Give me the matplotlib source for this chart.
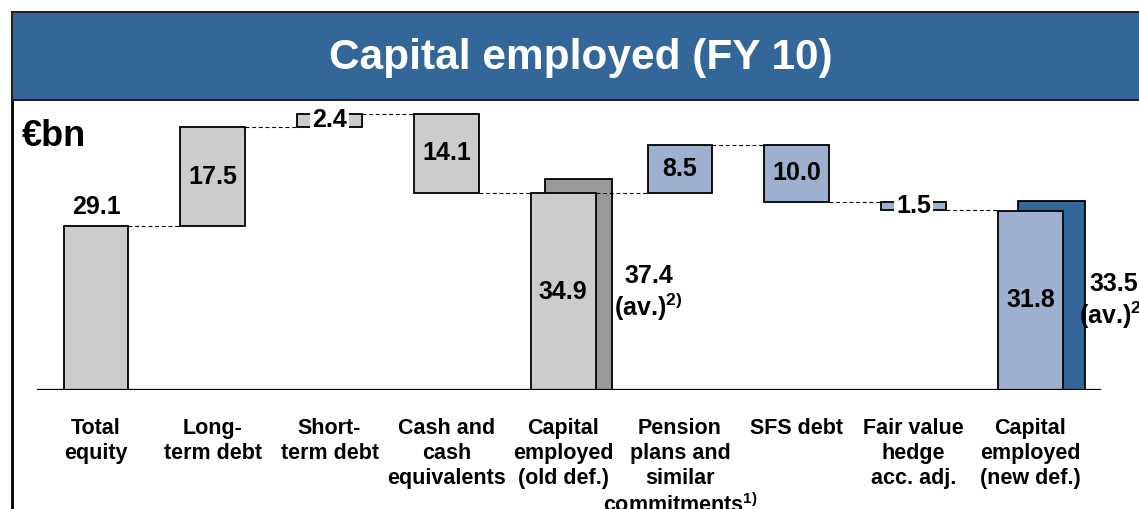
import numpy as np
import matplotlib
matplotlib.use("Agg")
from matplotlib import pyplot as plt
from matplotlib.patches import Rectangle

plt.rcParams['font.family'] = ['Liberation Sans', 'DejaVu Sans']
plt.rcParams['font.weight'] = 'bold'
plt.rcParams['mathtext.default'] = 'regular'

# data
categories = ["Total\nequity", "Long-\nterm debt", "Short-\nterm debt",
              "Cash and\ncash\nequivalents", "Capital\nemployed\n(old def.)",
              "Pension\nplans and\nsimilar\ncommitments$^{1)}$", "SFS debt",
              "Fair value\nhedge\nacc. adj.", "Capital\nemployed\n(new def.)"]
values = [29.1, 17.5, 2.4, -14.1, 34.9, 8.5, -10.0, -1.5, 31.8]
is_total = [True, False, False, False, True, False, False, False, True]
value_labels = ["29.1", "17.5", "2.4", "14.1", "34.9", "8.5", "10.0", "1.5", "31.8"]
avg_values = {4: 37.4, 8: 33.5}
avg_labels = {4: "37.4", 8: "33.5"}

gray = "#CCCCCC"
dgray = "#999999"
lblue = "#9DB0D0"
dblue = "#336699"
colors = [gray] * 5 + [lblue] * 4
avg_colors = {4: dgray, 8: dblue}
avg_offset = {4: 0.13, 8: 0.18}

W, H = 1139, 509
fig = plt.figure(figsize=(W / 100, H / 100), dpi=100)
fig.patch.set_facecolor("white")

# frame and title banner
fig.patches.append(Rectangle((12 / W, -0.1), 1.2, (H - 12) / H + 0.1, transform=fig.transFigure,
                             facecolor="none", edgecolor="black", lw=2, zorder=5))
fig.patches.append(Rectangle((12 / W, (H - 100) / H), 1.2, 88 / H, transform=fig.transFigure,
                             facecolor=dblue, edgecolor="#222222", lw=1.5, zorder=5))
fig.text(581 / W, 1 - 58 / H, "Capital employed (FY 10)", color="white",
         fontsize=30.5, fontweight="bold", ha="center", va="center", zorder=6)

base_px, top_px = 390, 100
scale = 5.64  # px per unit
ax = fig.add_axes([0, (H - base_px) / H, 1, (base_px - top_px) / H])
ax.set_zorder(3)
ax.set_facecolor("none")
step = 116.8
ax.set_xlim(-96 / step, (W - 96) / step)
ax.set_ylim(0, (base_px - top_px) / scale)
ax.axis("off")
width = 0.555

ax.axhline(0, xmin=38 / W, xmax=1100 / W, color="black", lw=1.6, zorder=5)

level = 0.0
bottoms, tops, ends = [], [], []
for i, v in enumerate(values):
    if is_total[i]:
        b, t = 0.0, v
        level = v
    else:
        b, t = min(level, level + v), max(level, level + v)
        level = level + v
    bottoms.append(b)
    tops.append(t)
    ends.append(level)

x = np.arange(len(values))
for i in avg_values:
    ax.bar(x[i] + avg_offset[i], avg_values[i], width=width + 0.02, color=avg_colors[i],
           edgecolor="black", lw=1.3, zorder=2)
ax.bar(x, np.array(tops) - np.array(bottoms), bottom=bottoms, width=width,
       color=colors, edgecolor="black", lw=1.3, zorder=3)

# connectors
for i in range(len(values) - 1):
    ax.plot([x[i] + width / 2, x[i + 1] - width / 2], [ends[i], ends[i]],
            color="black", lw=0.8, ls=(0, (3.5, 2.5)), zorder=4)

# value labels
for i in range(len(values)):
    h = tops[i] - bottoms[i]
    if i == 0:
        ax.text(x[i], tops[i] + 1.2, value_labels[i], ha="center", va="bottom",
                fontsize=18, fontweight="bold")
    elif h < 3:
        ax.text(x[i], (tops[i] + bottoms[i]) / 2, value_labels[i], ha="center", va="center",
                fontsize=18, fontweight="bold",
                bbox=dict(facecolor="white", edgecolor="none", pad=1.5), zorder=6)
    else:
        ax.text(x[i], (tops[i] + bottoms[i]) / 2, value_labels[i], ha="center", va="center",
                fontsize=18, fontweight="bold", zorder=6)

avg_label_y = {4: 17.1, 8: 15.7}
avg_label_dx = {4: 0.73, 8: 0.71}
for i in avg_values:
    ax.text(x[i] + avg_label_dx[i], avg_label_y[i], avg_labels[i] + "\n(av.)$^{2)}$",
            ha="center", va="center", fontsize=18, fontweight="bold", linespacing=1.1)

for i, c in enumerate(categories):
    ax.text(x[i], -4.9, c, ha="center", va="top", fontsize=15.5, fontweight="bold",
            linespacing=1.255, clip_on=False)

fig.text(22 / W, 1 - 137 / H, "€bn", fontsize=26, fontweight="bold", ha="left", va="center",
         zorder=6)

fig.savefig("out.png", dpi=100)
